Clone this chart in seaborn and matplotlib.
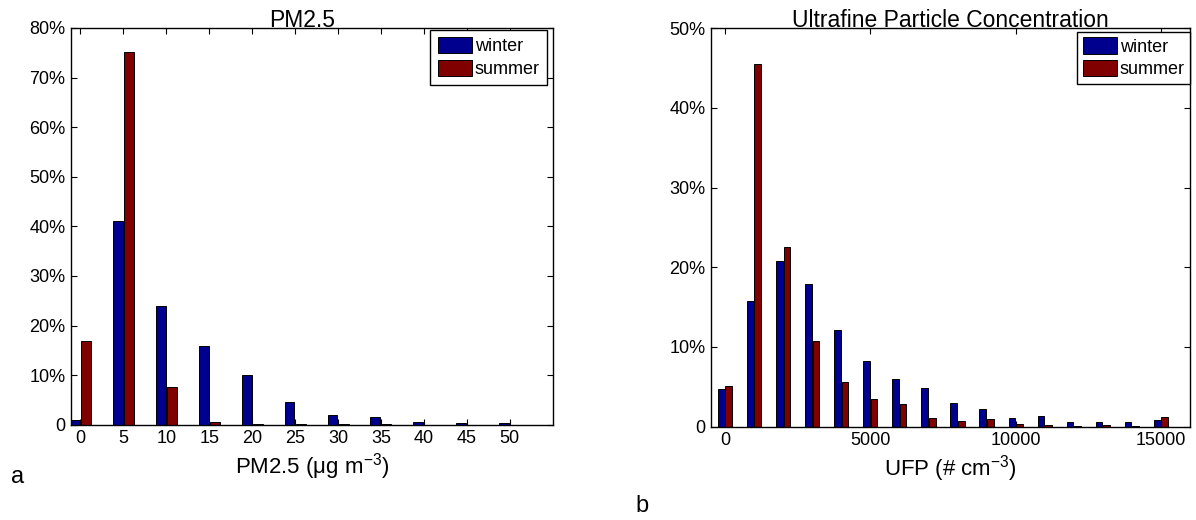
import matplotlib
matplotlib.use("Agg")
import matplotlib.pyplot as plt
from matplotlib.patches import Patch
from matplotlib.ticker import FuncFormatter
import numpy as np
import pandas as pd
import seaborn as sns

# PM2.5 histogram (% of samples per bin)
pm_bins = [0, 5, 10, 15, 20, 25, 30, 35, 40, 45, 50]
pm_winter = [0.9, 41.0, 24.0, 15.8, 10.1, 4.5, 2.0, 1.55, 0.55, 0.4, 0.4]
pm_summer = [16.9, 75.2, 7.7, 0.55, 0.1, 0.2, 0.1, 0.1, 0.0, 0.0, 0.0]

# UFP histogram (% of samples per bin)
ufp_bins = [0, 1000, 2000, 3000, 4000, 5000, 6000, 7000, 8000, 9000,
            10000, 11000, 12000, 13000, 14000, 15000]
ufp_winter = [4.7, 15.8, 20.8, 17.9, 12.1, 8.3, 6.0, 4.9, 3.0, 2.25,
              1.1, 1.3, 0.6, 0.55, 0.55, 0.85]
ufp_summer = [5.1, 45.5, 22.6, 10.7, 5.6, 3.5, 2.9, 1.1, 0.66, 0.96,
              0.3, 0.2, 0.05, 0.2, 0.05, 1.2]

seasons = ["winter", "summer"]
colors = {"winter": "#00008F", "summer": "#800000"}


def long_df(bins, winter, summer):
    return pd.DataFrame({
        "bin": bins * 2,
        "pct": winter + summer,
        "season": ["winter"] * len(bins) + ["summer"] * len(bins),
    })


sns.set_style("ticks")
plt.rcParams["font.family"] = ["Liberation Sans", "DejaVu Sans"]
plt.rcParams["mathtext.fontset"] = "custom"
plt.rcParams["mathtext.rm"] = "Liberation Sans"
plt.rcParams["mathtext.it"] = "Liberation Sans"
plt.rcParams["axes.edgecolor"] = "black"
plt.rcParams["text.color"] = "black"
plt.rcParams["axes.labelcolor"] = "black"

fig = plt.figure(figsize=(11.96, 5.2), dpi=100)
ax1 = fig.add_axes([0.0594, 0.1833, 0.4027, 0.7629])
ax2 = fig.add_axes([0.5945, 0.1794, 0.4005, 0.7667])

pct_fmt = FuncFormatter(lambda v, p: "0" if v == 0 else f"{v:.0f}%")


def draw(ax, df, title, title_x, xlabel, xlim, ylim, xticks,
         legend_anchor, bpad):
    sns.barplot(data=df, x="bin", y="pct", hue="season", hue_order=seasons,
                palette=colors, native_scale=True, width=0.52, gap=0.12,
                errorbar=None, edgecolor="black", linewidth=0.7,
                saturation=1, legend=False, ax=ax)
    ax.set_xlim(*xlim)
    ax.set_ylim(*ylim)
    ax.set_xticks(xticks)
    ax.set_xticklabels([str(t) for t in xticks])
    ax.set_yticks(np.arange(ylim[0], ylim[1] + 1, 10))
    ax.yaxis.set_major_formatter(pct_fmt)
    ax.tick_params(direction="in", top=True, right=True, length=4,
                   width=0.8, labelsize=13, pad=4, colors="black")
    for s in ax.spines.values():
        s.set_visible(True)
        s.set_linewidth(1.0)
        s.set_color("black")
    ax.set_title(title, fontsize=16.5, pad=1, x=title_x)
    ax.set_xlabel(xlabel, fontsize=16, labelpad=3)
    ax.set_ylabel("")
    handles = [Patch(facecolor=colors[s], edgecolor="black", linewidth=0.7,
                     label=s) for s in seasons]
    leg = ax.legend(handles=handles, loc="upper right",
                    bbox_to_anchor=legend_anchor, fontsize=13,
                    frameon=True, fancybox=False, edgecolor="black",
                    framealpha=1, borderpad=bpad, handlelength=1.9,
                    handleheight=1.0, handletextpad=0.15, labelspacing=0.25,
                    borderaxespad=0)
    leg.get_frame().set_linewidth(1.0)


draw(ax1, long_df(pm_bins, pm_winter, pm_summer), "PM2.5", 0.479,
     "PM2.5 (μg m$^{-3}$)", (-1.1, 55), (0, 80), pm_bins,
     (0.988, 0.995), 0.4)
draw(ax2, long_df(ufp_bins, ufp_winter, ufp_summer),
     "Ultrafine Particle Concentration", 0.5, "UFP (# cm$^{-3}$)",
     (-480, 16000), (0, 50), [0, 5000, 10000, 15000], (1.0, 0.99), 0.3)

fig.text(0.015, 0.082, "a", fontsize=17, va="center", ha="center")
fig.text(0.537, 0.026, "b", fontsize=17, va="center", ha="center")

fig.savefig("out.png", dpi=100)
